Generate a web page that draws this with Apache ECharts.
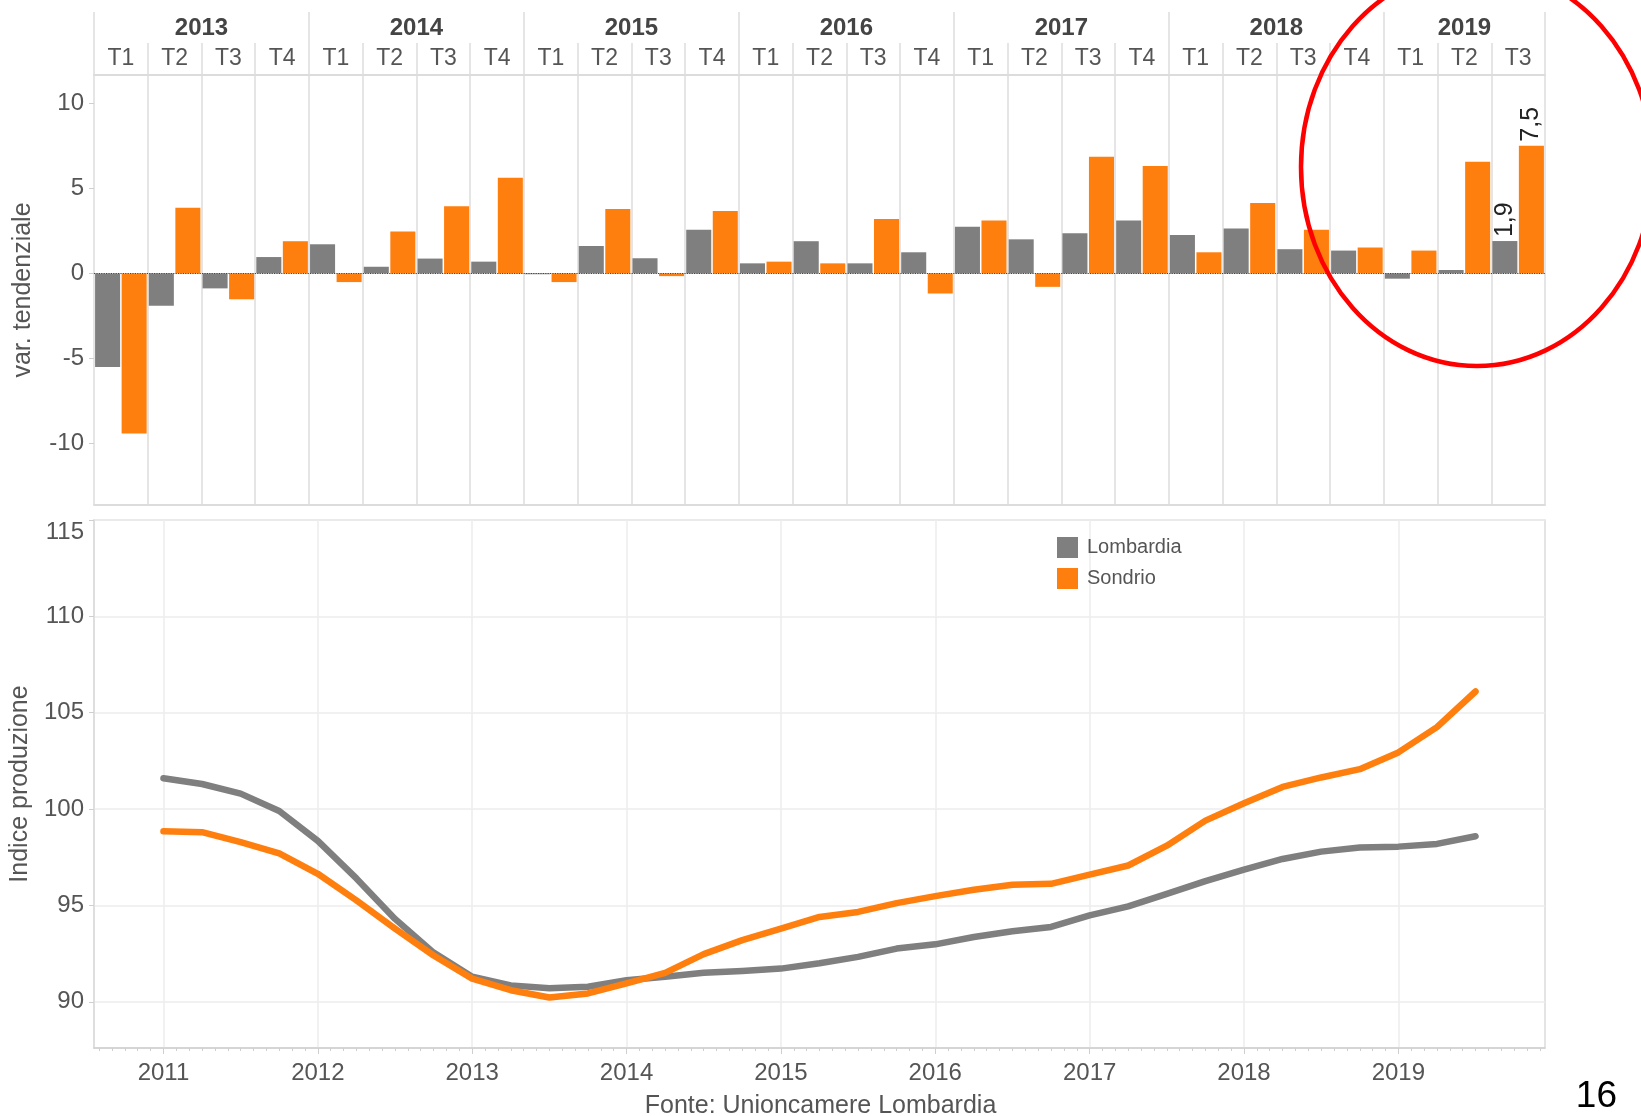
<!DOCTYPE html>
<html>
<head>
<meta charset="utf-8">
<title>Produzione industriale - Lombardia e Sondrio</title>
<script src="https://cdn.jsdelivr.net/npm/echarts@6/dist/echarts.min.js"></script>
<style>
  html, body { margin: 0; padding: 0; background: #fff; }
  #chart { width: 1641px; height: 1116px; }
</style>
</head>
<body>
<div id="chart"></div>
<script>
// variazione tendenziale trimestrale, 2013 T1 - 2019 T3
const years = ['2013', '2014', '2015', '2016', '2017', '2018', '2019'];
const quarterNames = ['T1', 'T2', 'T3', 'T4'];
const quartersPerYear = [4, 4, 4, 4, 4, 4, 3];
const lombardiaVar = [-5.5, -1.9, -0.88, 0.96, 1.71, 0.39, 0.87, 0.69, -0.05, 1.61, 0.89, 2.56,
  0.59, 1.89, 0.59, 1.24, 2.74, 2.0, 2.36, 3.11, 2.26, 2.64, 1.42, 1.34, -0.31, 0.2, 1.9];
const sondrioVar = [-9.4, 3.86, -1.52, 1.89, -0.51, 2.46, 3.94, 5.61, -0.51, 3.78, -0.16, 3.66,
  0.69, 0.59, 3.19, -1.18, 3.11, -0.79, 6.85, 6.3, 1.24, 4.13, 2.56, 1.52, 1.34, 6.56, 7.5];
const varTicks = [-10, -5, 0, 5, 10];

// indice produzione, trimestrale 2011 T1 - 2019 T3
const indexStartYear = 2011;
const indexYears = [2011, 2012, 2013, 2014, 2015, 2016, 2017, 2018, 2019];
const lombardiaIndex = [101.6, 101.3, 100.8, 99.9, 98.35, 96.4, 94.3, 92.55, 91.3, 90.85, 90.7, 90.78,
  91.12, 91.3, 91.5, 91.6, 91.72, 92.0, 92.33, 92.76, 92.98, 93.36, 93.66, 93.88,
  94.48, 94.95, 95.6, 96.26, 96.86, 97.41, 97.79, 98.0, 98.05, 98.19, 98.59];
const sondrioIndex = [98.85, 98.8, 98.28, 97.7, 96.64, 95.26, 93.8, 92.4, 91.2, 90.6, 90.22, 90.43,
  90.95, 91.5, 92.47, 93.2, 93.8, 94.4, 94.66, 95.12, 95.48, 95.81, 96.07, 96.12,
  96.6, 97.07, 98.1, 99.4, 100.3, 101.15, 101.64, 102.07, 102.94, 104.25, 106.1];
const indexTicks = [90, 95, 100, 105, 110, 115];

const GREY = '#7f7f7f';
const ORANGE = '#ff7f0e';
const TXT = '#555';
const LINE = '#dcdcdc';
const sans = "'Liberation Sans', Arial, sans-serif";

// categorie trimestrali e centro di ogni anno (in trimestri)
const quarters = [];
const yearCenters = [];
let acc = 0;
years.forEach((y, i) => {
  for (let q = 0; q < quartersPerYear[i]; q++) quarters.push(y + ' ' + quarterNames[q]);
  yearCenters.push(acc + quartersPerYear[i] / 2);
  acc += quartersPerYear[i];
});

const lastLabel = {
  show: true, position: 'top', rotate: 90, align: 'left', verticalAlign: 'middle',
  distance: 4, fontFamily: sans, fontSize: 25, color: '#222',
  formatter: p => String(p.value).replace('.', ',')
};
function withLastLabel(arr) {
  return arr.map((v, i) => i === arr.length - 1 ? { value: v, label: lastLabel } : v);
}

const chart = echarts.init(document.getElementById('chart'));
chart.setOption({
  animation: false,
  backgroundColor: '#fff',
  title: [
    {
      text: 'Fonte: Unioncamere Lombardia', left: 'center', top: 1089,
      textStyle: { fontFamily: sans, fontSize: 25, fontWeight: 'normal', color: TXT }
    },
    {
      text: '16', right: 19, top: 1073,
      textStyle: { fontFamily: sans, fontSize: 37, fontWeight: 'normal', color: '#000' }
    }
  ],
  legend: {
    data: ['Lombardia', 'Sondrio'],
    orient: 'vertical', left: 1052, top: 532,
    icon: 'rect', itemWidth: 21, itemHeight: 21, itemGap: 10,
    textStyle: { fontFamily: sans, fontSize: 20, color: TXT, padding: [0, 0, 0, 4] }
  },
  grid: [
    { left: 94, right: 96, top: 12, height: 31, outerBoundsMode: 'none' },   // anni
    { left: 94, right: 96, top: 43, height: 32, outerBoundsMode: 'none' },   // trimestri
    { left: 94, right: 96, top: 75, height: 430, outerBoundsMode: 'none' },  // barre
    { left: 94, right: 96, top: 520, bottom: 68, outerBoundsMode: 'none',
      show: true, borderColor: LINE, borderWidth: 1.5 }
  ],
  xAxis: [
    {
      gridIndex: 0, type: 'value', min: 0, max: quarters.length, interval: 4, position: 'bottom',
      axisLine: { show: false }, axisTick: { show: false },
      splitLine: { show: true, lineStyle: { color: LINE, width: 1.5 } },
      axisLabel: {
        inside: true, margin: 3, customValues: yearCenters,
        formatter: v => years[yearCenters.indexOf(v)] || '',
        fontFamily: sans, fontWeight: 'bold', fontSize: 24, color: '#444'
      }
    },
    {
      gridIndex: 1, type: 'category', data: quarters, position: 'bottom',
      axisLine: { show: true, lineStyle: { color: LINE, width: 2 } },
      axisTick: { show: false },
      splitLine: { show: true, interval: 0, lineStyle: { color: LINE, width: 1.5 } },
      axisLabel: {
        inside: true, margin: 5, interval: 0,
        formatter: v => v.split(' ')[1],
        fontFamily: sans, fontSize: 23, color: TXT
      }
    },
    {
      gridIndex: 2, type: 'category', data: quarters, position: 'bottom',
      axisLine: { show: true, onZero: false, lineStyle: { color: LINE, width: 2 } },
      axisTick: { show: false }, axisLabel: { show: false },
      splitLine: { show: true, interval: 0, lineStyle: { color: LINE, width: 1.5 } }
    },
    {
      gridIndex: 3, type: 'value', min: 2010.55, max: 2019.95, splitNumber: 8,
      axisLine: { show: true, lineStyle: { color: '#cfcfcf', width: 1.5 } },
      axisTick: { show: true, length: 6, customValues: indexYears, lineStyle: { color: '#cfcfcf' } },
      minorTick: { show: true, splitNumber: 12, length: 3, lineStyle: { color: '#cfcfcf' } },
      splitLine: { show: true, lineStyle: { color: '#ececec', width: 1.5 } },
      axisLabel: {
        customValues: indexYears, margin: 13, formatter: v => String(v),
        fontFamily: sans, fontSize: 24, color: TXT
      }
    }
  ],
  yAxis: [
    { gridIndex: 0, type: 'value', show: false },
    { gridIndex: 1, type: 'value', show: false },
    {
      gridIndex: 2, type: 'value', min: -13.6, max: 11.65,
      name: 'var. tendenziale', nameLocation: 'middle', nameGap: 58,
      nameTextStyle: { fontFamily: sans, fontSize: 25, color: TXT },
      axisLine: { show: false },
      axisTick: { show: true, length: 5, customValues: varTicks, lineStyle: { color: '#cfcfcf' } },
      splitLine: { show: false },
      axisLabel: { customValues: varTicks, margin: 10, fontFamily: sans, fontSize: 24, color: TXT }
    },
    {
      gridIndex: 3, type: 'value', min: 87.6, max: 115,
      name: 'Indice produzione', nameLocation: 'middle', nameGap: 58,
      nameTextStyle: { fontFamily: sans, fontSize: 25, color: TXT },
      axisLine: { show: true, lineStyle: { color: LINE, width: 1.5 } },
      axisTick: { show: true, length: 5, customValues: indexTicks, lineStyle: { color: '#cfcfcf' } },
      splitLine: { show: true, lineStyle: { color: '#ececec', width: 1.5 } },
      axisLabel: {
        customValues: indexTicks, margin: 10, verticalAlignMaxLabel: 'top',
        fontFamily: sans, fontSize: 24, color: TXT
      }
    }
  ],
  series: [
    {
      name: 'Lombardia', type: 'bar', xAxisIndex: 2, yAxisIndex: 2,
      data: withLastLabel(lombardiaVar),
      barGap: '6%', barCategoryGap: '4%',
      itemStyle: { color: GREY }
    },
    {
      name: 'Sondrio', type: 'bar', xAxisIndex: 2, yAxisIndex: 2,
      data: withLastLabel(sondrioVar),
      barGap: '6%', barCategoryGap: '4%',
      itemStyle: { color: ORANGE },
      markLine: {
        silent: true, symbol: 'none', label: { show: false },
        lineStyle: { type: 'dotted', color: '#444', width: 1.2 },
        data: [{ yAxis: 0 }]
      }
    },
    {
      name: 'Lombardia', type: 'line', xAxisIndex: 3, yAxisIndex: 3,
      data: lombardiaIndex.map((v, i) => [indexStartYear + i / 4, v]),
      showSymbol: false,
      itemStyle: { color: GREY },
      lineStyle: { color: GREY, width: 6.5, cap: 'round', join: 'round' }
    },
    {
      name: 'Sondrio', type: 'line', xAxisIndex: 3, yAxisIndex: 3,
      data: sondrioIndex.map((v, i) => [indexStartYear + i / 4, v]),
      showSymbol: false,
      itemStyle: { color: ORANGE },
      lineStyle: { color: ORANGE, width: 6.5, cap: 'round', join: 'round' }
    }
  ],
  graphic: [
    {
      type: 'ellipse', silent: true, z: 100,
      shape: { cx: 1477, cy: 167, rx: 176, ry: 199 },
      style: { fill: 'none', stroke: '#ff0000', lineWidth: 4.5 }
    }
  ]
});
</script>
</body>
</html>
